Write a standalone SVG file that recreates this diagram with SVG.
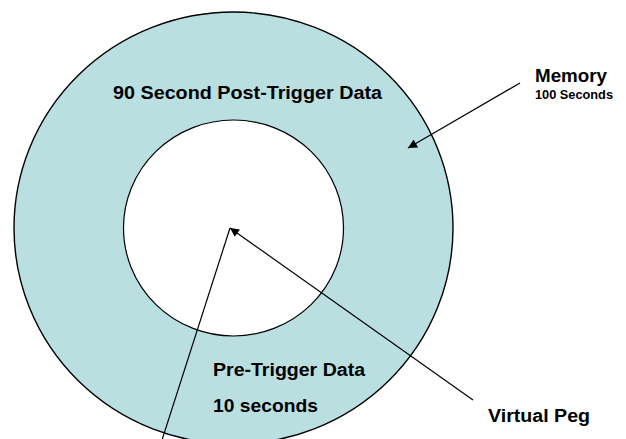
<svg xmlns="http://www.w3.org/2000/svg" width="626" height="439" viewBox="0 0 626 439">
<style>
.t{font-family:"Liberation Sans",Arial,sans-serif;font-weight:bold;fill:#000}
.big{font-size:18px}
.small{font-size:12px}
.ln{stroke:#000;stroke-width:1.2;fill:none}
</style>
<defs>
<marker id="ah" viewBox="0 0 10 10" refX="10" refY="5" markerWidth="10" markerHeight="9" markerUnits="userSpaceOnUse" orient="auto">
<path d="M0,0 L10,5 L0,10 z" fill="#000"/>
</marker>
</defs>
<rect width="626" height="439" fill="#fff"/>
<g id="memory">
<ellipse cx="233.5" cy="228" rx="219.5" ry="216" fill="#b9dfe1" stroke="#000" stroke-width="1.4"/>
</g>
<g id="pretrigger">
<ellipse cx="233.5" cy="228" rx="110" ry="108" fill="#fff" stroke="#000" stroke-width="1.2"/>
</g>
<g id="labels">
<text class="t big" x="113" y="99" textLength="269" lengthAdjust="spacingAndGlyphs">90 Second Post-Trigger Data</text>
<text class="t big" x="213" y="376" textLength="152" lengthAdjust="spacingAndGlyphs">Pre-Trigger Data</text>
<text class="t big" x="213" y="412" textLength="105" lengthAdjust="spacingAndGlyphs">10 seconds</text>
<text class="t big" x="535" y="82" textLength="72" lengthAdjust="spacingAndGlyphs">Memory</text>
<text class="t small" x="535" y="99" textLength="78" lengthAdjust="spacingAndGlyphs">100 Seconds</text>
<text class="t big" x="488" y="422" textLength="102" lengthAdjust="spacingAndGlyphs">Virtual Peg</text>
</g>
<g id="connectors">
<line class="ln" x1="520" y1="83" x2="408" y2="148" marker-end="url(#ah)"/>
<line class="ln" x1="473" y1="400" x2="230" y2="228" marker-end="url(#ah)"/>
<line class="ln" x1="162" y1="440" x2="230" y2="228"/>
</g>
</svg>
